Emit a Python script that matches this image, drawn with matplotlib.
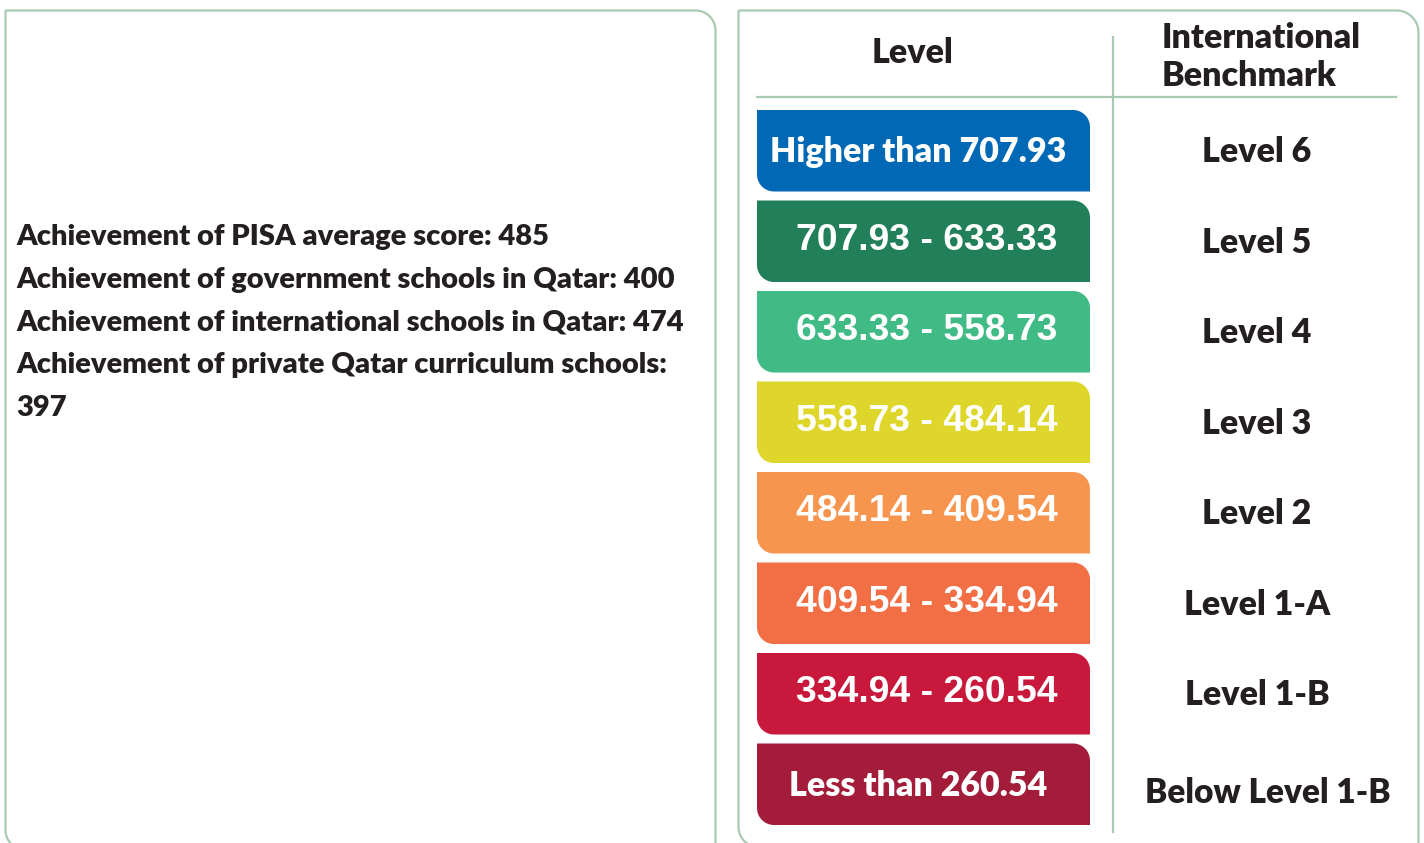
import matplotlib
matplotlib.use("Agg")
import matplotlib.pyplot as plt
import numpy as np
from matplotlib.path import Path
from matplotlib.patches import PathPatch

# ---- data ----
summary_lines = [
    "Achievement of PISA average score: 485",
    "Achievement of government schools in Qatar: 400",
    "Achievement of international schools in Qatar: 474",
    "Achievement of private Qatar curriculum schools:",
    "397",
]
level_ranges = [
    "Higher than 707.93",
    "707.93 - 633.33",
    "633.33 - 558.73",
    "558.73 - 484.14",
    "484.14 - 409.54",
    "409.54 - 334.94",
    "334.94 - 260.54",
    "Less than 260.54",
]
benchmarks = [
    "Level 6", "Level 5", "Level 4", "Level 3",
    "Level 2", "Level 1-A", "Level 1-B", "Below Level 1-B",
]
level_colors = ["#0068b4", "#21805a", "#41bb85", "#dfd62c",
                "#f7954f", "#f26e45", "#c8193c", "#a31d3a"]
header_level = "Level"
header_bench = "International\nBenchmark"

W, H = 1424, 843
fig = plt.figure(figsize=(W / 100, H / 100), dpi=100)
ax = fig.add_axes([0, 0, 1, 1])
ax.set_xlim(0, W)
ax.set_ylim(H, 0)
ax.axis("off")

LINE = "#a9cab2"
TXT = "#231f20"
FW = "heavy"


def rounded_rect(x0, y0, x1, y1, tl=0, tr=0, br=0, bl=0, n=20):
    pts = []

    def arc(cx, cy, r, a0, a1):
        if r == 0:
            return [(cx, cy)]
        t = np.linspace(np.radians(a0), np.radians(a1), n)
        return list(zip(cx + r * np.cos(t), cy + r * np.sin(t)))
    pts += arc(x0 + tl, y0 + tl, tl, 180, 270)
    pts += arc(x1 - tr, y0 + tr, tr, 270, 360)
    pts += arc(x1 - br, y1 - br, br, 0, 90)
    pts += arc(x0 + bl, y1 - bl, bl, 90, 180)
    pts.append(pts[0])
    return Path(pts)


# ---- panels ----
ax.add_patch(PathPatch(rounded_rect(5.5, 10.5, 715.5, 850, tr=20, bl=20),
                       facecolor="none", edgecolor=LINE, lw=1.6))
ax.add_patch(PathPatch(rounded_rect(738.5, 10.5, 1418.5, 847, tr=22, bl=20),
                       facecolor="none", edgecolor=LINE, lw=1.6))

# ---- left summary text ----
for i, s in enumerate(summary_lines):
    ax.text(16, 237.5 + i * 42.5, s, ha="left", va="center",
            fontsize=21, fontweight=FW, family="Lato", color=TXT)

# ---- table grid ----
ax.plot([757, 1396], [97, 97], color=LINE, lw=1.6)
ax.plot([1113, 1113], [37, 832], color=LINE, lw=1.6)

ax.text(912, 53, header_level, ha="center", va="center",
        fontsize=24.5, fontweight=FW, family="Lato", color=TXT)
ax.text(1162, 57, header_bench, ha="left", va="center",
        fontsize=24.5, fontweight=FW, family="Lato", color=TXT,
        linespacing=1.22)

# ---- level boxes ----
top0, step, bh = 110, 90.5, 81.5
bx0, bx1 = 757, 1090
n = len(benchmarks)
for i, (rng, bench, col) in enumerate(zip(level_ranges, benchmarks, level_colors)):
    y0 = top0 + i * step
    ax.add_patch(PathPatch(rounded_rect(bx0, y0, bx1, y0 + bh, tr=17, bl=17),
                           facecolor=col, edgecolor="none"))
    cy = y0 + bh / 2
    if rng[0].isdigit():
        ax.text(927, cy - 1, rng, ha="center", va="center",
                fontsize=26.8, fontweight="bold", family="Liberation Sans",
                color="white")
    else:
        ax.text(918, cy + 1.5, rng, ha="center", va="center",
                fontsize=24.5, fontweight=FW, family="Lato", color="white")
    last = (i == n - 1)
    bx = 1268 if last else 1257
    by = cy + (9 if last else 1.5)
    ax.text(bx, by, bench, ha="center", va="center",
            fontsize=24 if last else 24.5, fontweight=FW, family="Lato",
            color=TXT)

fig.savefig("out.png", dpi=100, facecolor="white")
